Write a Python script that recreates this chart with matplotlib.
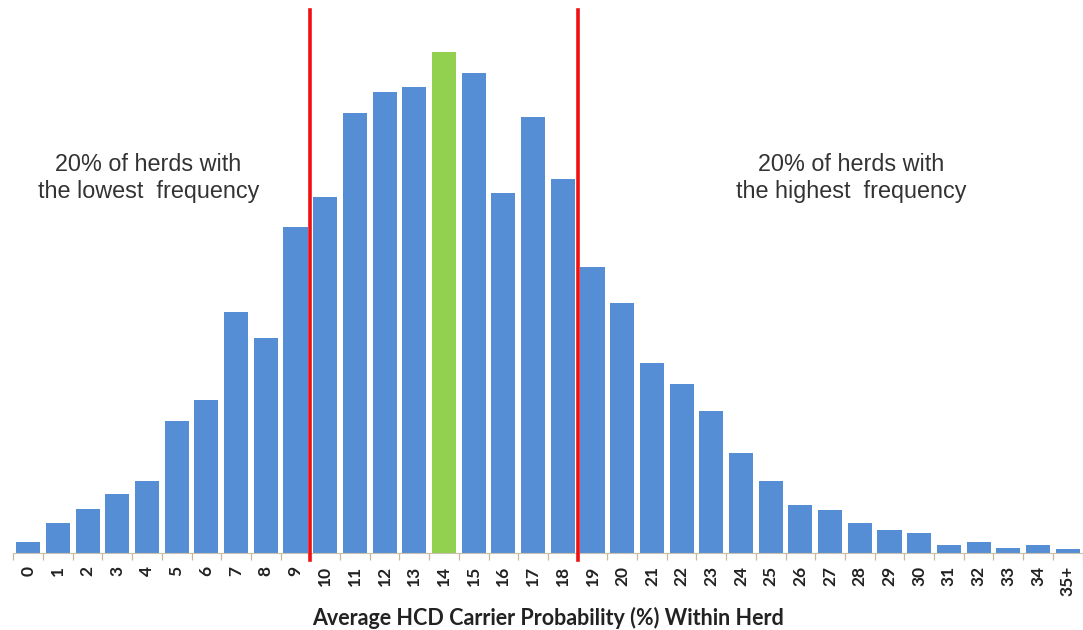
"""
Histogram of average HCD carrier probability within herd, with the
lowest / highest 20% cut-offs marked.
"""
import matplotlib
matplotlib.use("Agg")
import matplotlib.pyplot as plt
import numpy as np

# ── Data (relative herd counts) ───────────────────────────────────────────────
categories = [str(i) for i in range(35)] + ["35+"]
herd_counts = [
    11, 30, 44, 59, 72, 132, 153, 241, 215, 326,
    356, 440, 461, 466, 501, 480, 360, 436, 374, 286,
    250, 190, 169, 142, 100, 72, 48, 43, 30, 23,
    20, 8, 11, 5, 8, 4,
]
highlight = "14"
cutoffs = [9.5, 18.5]   # boundaries 9|10 and 18|19

_BLUE  = "#558ED5"
_GREEN = "#92D050"
_RED   = "#F01010"
_TEXT  = "#333333"

fig = plt.figure(figsize=(10.83, 6.30), dpi=100)
ax = fig.add_axes([0.0123, 0.1217, 0.9873, 0.8624])

x = np.arange(len(categories))
colors = [_GREEN if c == highlight else _BLUE for c in categories]
ax.bar(x, herd_counts, width=0.81, color=colors, zorder=2)

ax.set_xlim(-0.5, len(categories) - 0.5)
ax.set_ylim(0, 543)

for xc in cutoffs:
    ax.axvline(xc, ymin=-0.012, ymax=1.0, color=_RED, linewidth=2.6,
               zorder=3, clip_on=False)

# ── Axes styling ─────────────────────────────────────────────────────────────
for side in ("top", "right", "left"):
    ax.spines[side].set_visible(False)
ax.spines["bottom"].set_color("#C8C0B0")
ax.spines["bottom"].set_linewidth(0.8)
ax.set_yticks([])

ax.set_xticks(x)
ax.set_xticklabels(categories, rotation=90, fontsize=12.5, family="Lato",
                   fontweight="bold", color="#222222")
ax.tick_params(axis="x", which="major", length=0, pad=9)
ax.set_xticks(np.arange(-0.5, len(categories)), minor=True)
ax.tick_params(axis="x", which="minor", length=5, width=0.9, color="#C8B898")

ax.set_xlabel("Average HCD Carrier Probability (%) Within Herd",
              fontsize=15.5, fontweight="bold", family="Lato", color="#222222",
              labelpad=8)

# ── Annotations ──────────────────────────────────────────────────────────────
ax.text(4.05, 375, "20% of herds with\nthe lowest  frequency", ha="center",
        va="center", fontsize=16.8, family="Liberation Sans", color=_TEXT,
        linespacing=1.2)
ax.text(27.7, 375, "20% of herds with\nthe highest  frequency", ha="center",
        va="center", fontsize=16.8, family="Liberation Sans", color=_TEXT,
        linespacing=1.2)

fig.savefig("out.png", dpi=100, facecolor="white")
plt.close(fig)
